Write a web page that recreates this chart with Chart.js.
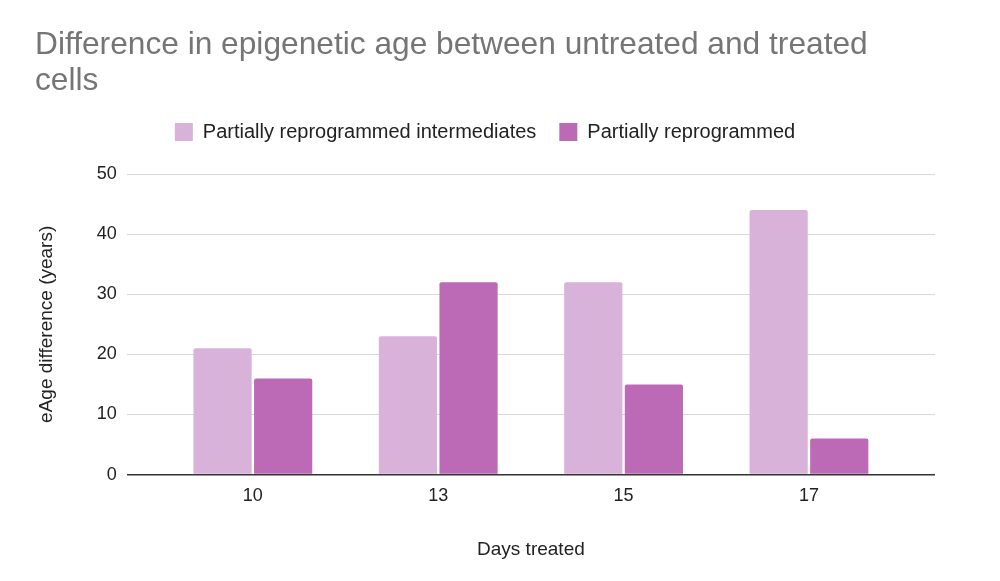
<!DOCTYPE html>
<html>
<head>
<meta charset="utf-8">
<script src="https://cdn.jsdelivr.net/npm/chart.js@4"></script>
<style>
  html, body { margin: 0; padding: 0; background: #fff; }
  #wrap { width: 1000px; height: 581px; }
</style>
</head>
<body>
<div id="wrap"><canvas id="chart"></canvas></div>
<script>
const days = ['10', '13', '15', '17'];
const intermediates = [21, 23, 32, 44];
const reprogrammed = [16, 32, 15, 6];
const yTicks = [0, 10, 20, 30, 40, 50];

const font = "'Liberation Sans', Arial, sans-serif";

function points(values) {
  return values.map((v, i) => ({ x: i, y: v }));
}

// a bit more room under the legend, like the original
const legendGap = {
  id: 'legendGap',
  beforeInit(chart) {
    const fit = chart.legend.fit;
    chart.legend.fit = function () {
      fit.call(this);
      this.height += 22;
    };
  },
};

const ctx = document.getElementById('chart').getContext('2d');
const myChart = new Chart(ctx, {
  type: 'bar',
  data: {
    datasets: [
      {
        label: 'Partially reprogrammed intermediates',
        data: points(intermediates),
        backgroundColor: '#d9b2d9',
        borderRadius: 2,
        borderSkipped: 'bottom',
        categoryPercentage: 0.654,
        barPercentage: 0.96,
      },
      {
        label: 'Partially reprogrammed',
        data: points(reprogrammed),
        backgroundColor: '#bc6ab5',
        borderRadius: 2,
        borderSkipped: 'bottom',
        categoryPercentage: 0.654,
        barPercentage: 0.96,
      },
    ],
  },
  plugins: [legendGap],
  options: {
    responsive: true,
    maintainAspectRatio: false,
    animation: false,
    layout: { padding: { left: 35, right: 65, top: 28, bottom: 20 } },
    plugins: {
      title: {
        display: true,
        text: ['Difference in epigenetic age between untreated and treated', 'cells'],
        align: 'start',
        color: '#757575',
        font: { family: font, size: 31.7, weight: 'normal', lineHeight: 1.12 },
        padding: { top: 0, bottom: 0 },
      },
      legend: {
        position: 'top',
        labels: {
          color: '#222',
          font: { family: font, size: 20 },
          boxWidth: 18,
          boxHeight: 18,
          padding: 23,
        },
      },
      tooltip: { enabled: false },
    },
    scales: {
      x: {
        type: 'linear',
        offset: false,
        min: -0.68,
        max: 3.68,
        bounds: 'data',
        afterBuildTicks: (scale) => {
          scale.ticks = days.map((d, i) => ({ value: i }));
        },
        grid: { display: false },
        border: { display: false },
        ticks: {
          autoSkip: false,
          color: '#222',
          font: { family: font, size: 18 },
          padding: 3,
          callback: (value) => days[value] ?? '',
        },
        title: {
          display: true,
          text: 'Days treated',
          color: '#222',
          font: { family: font, size: 19 },
          padding: { top: 28, bottom: 0 },
        },
      },
      y: {
        min: 0,
        max: 50,
        afterBuildTicks: (scale) => {
          scale.ticks = yTicks.map((v) => ({ value: v }));
        },
        grid: {
          drawTicks: false,
          color: (c) => (c.tick && c.tick.value === 0 ? '#333' : '#d9d9d9'),
          lineWidth: (c) => (c.tick && c.tick.value === 0 ? 1.5 : 1),
        },
        border: { display: false },
        ticks: {
          color: '#222',
          font: { family: font, size: 18 },
          padding: 10,
        },
        title: {
          display: true,
          text: 'eAge difference (years)',
          color: '#222',
          font: { family: font, size: 19 },
          padding: { top: 0, bottom: 29 },
        },
      },
    },
  },
});
</script>
</body>
</html>
